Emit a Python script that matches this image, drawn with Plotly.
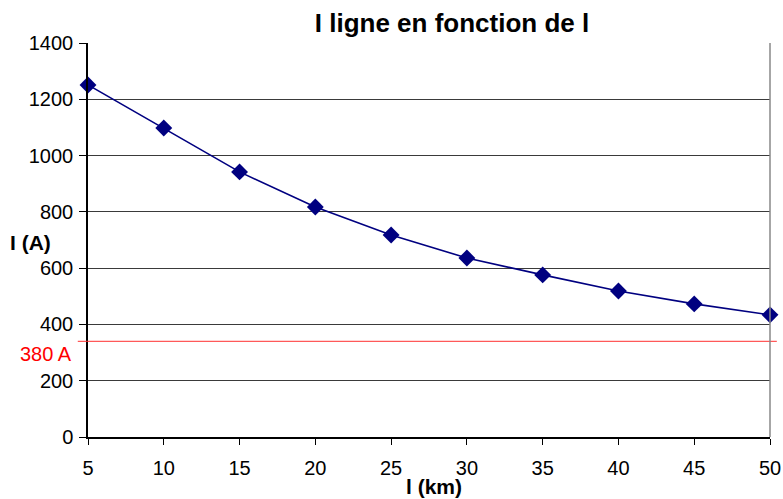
import plotly.graph_objects as go

distance_km = [5, 10, 15, 20, 25, 30, 35, 40, 45, 50]
current_a = [1251, 1098, 942, 817, 718, 636, 576, 519, 473, 434]
limit_value = 340
limit_label = "380 A"
x_ticks = [5, 10, 15, 20, 25, 30, 35, 40, 45, 50]
y_ticks = [0, 200, 400, 600, 800, 1000, 1200, 1400]

font_family = "Liberation Sans, Arial, sans-serif"

fig = go.Figure()
fig.add_trace(go.Scatter(
    x=distance_km, y=current_a, mode="lines+markers",
    line=dict(color="#000080", width=1.6),
    marker=dict(symbol="diamond", size=13, color="#000080"),
    cliponaxis=False, showlegend=False,
))

fig.add_shape(type="line", xref="paper", yref="y", x0=-0.015, x1=1.01,
              y0=limit_value, y1=limit_value,
              line=dict(color="#ff3030", width=1))
fig.add_annotation(xref="paper", yref="y", x=-0.02, y=limit_value,
                   text=limit_label, showarrow=False, xanchor="right",
                   yanchor="top", yshift=0,
                   font=dict(color="#ff0000", size=20, family=font_family))

fig.update_layout(
    width=783, height=499,
    margin=dict(l=88, r=13, t=43, b=62),
    paper_bgcolor="white", plot_bgcolor="white",
    font=dict(family=font_family, size=20, color="black"),
    title=dict(text="<b>I ligne en fonction de l</b>", x=452 / 783, xanchor="center",
               y=1 - 23 / 499, yanchor="middle",
               font=dict(size=26, family=font_family)),
    xaxis=dict(range=[5, 50], tickvals=x_ticks, showgrid=False,
               showline=True, linecolor="black", linewidth=1.5,
               mirror=False, ticks="outside", ticklen=6, tickcolor="black",
               ticklabelstandoff=6, automargin=False,
               zeroline=False),
    yaxis=dict(range=[0, 1400], tickvals=y_ticks, showgrid=True,
               gridcolor="#3a3a3a", gridwidth=1,
               showline=True, linecolor="black", linewidth=1.5,
               ticks="outside", ticklen=7, tickcolor="black",
               ticklabelstandoff=2, zeroline=False, automargin=False),
)

# right border
fig.add_shape(type="line", xref="paper", yref="paper", x0=1, x1=1, y0=0, y1=1,
              line=dict(color="#888888", width=1.5))

fig.add_annotation(xref="paper", yref="paper", x=-80 / 682, y=(437 - 242) / 394,
                   text="<b>I (A)</b>", showarrow=False, xanchor="left",
                   yanchor="middle", font=dict(size=21, family=font_family))

fig.add_annotation(xref="paper", yref="paper", x=(434 - 88) / 682, y=-(486 - 437) / 394,
                   text="<b>l (km)</b>", showarrow=False, xanchor="center",
                   yanchor="middle", font=dict(size=21, family=font_family))

fig.write_html("out.html")
